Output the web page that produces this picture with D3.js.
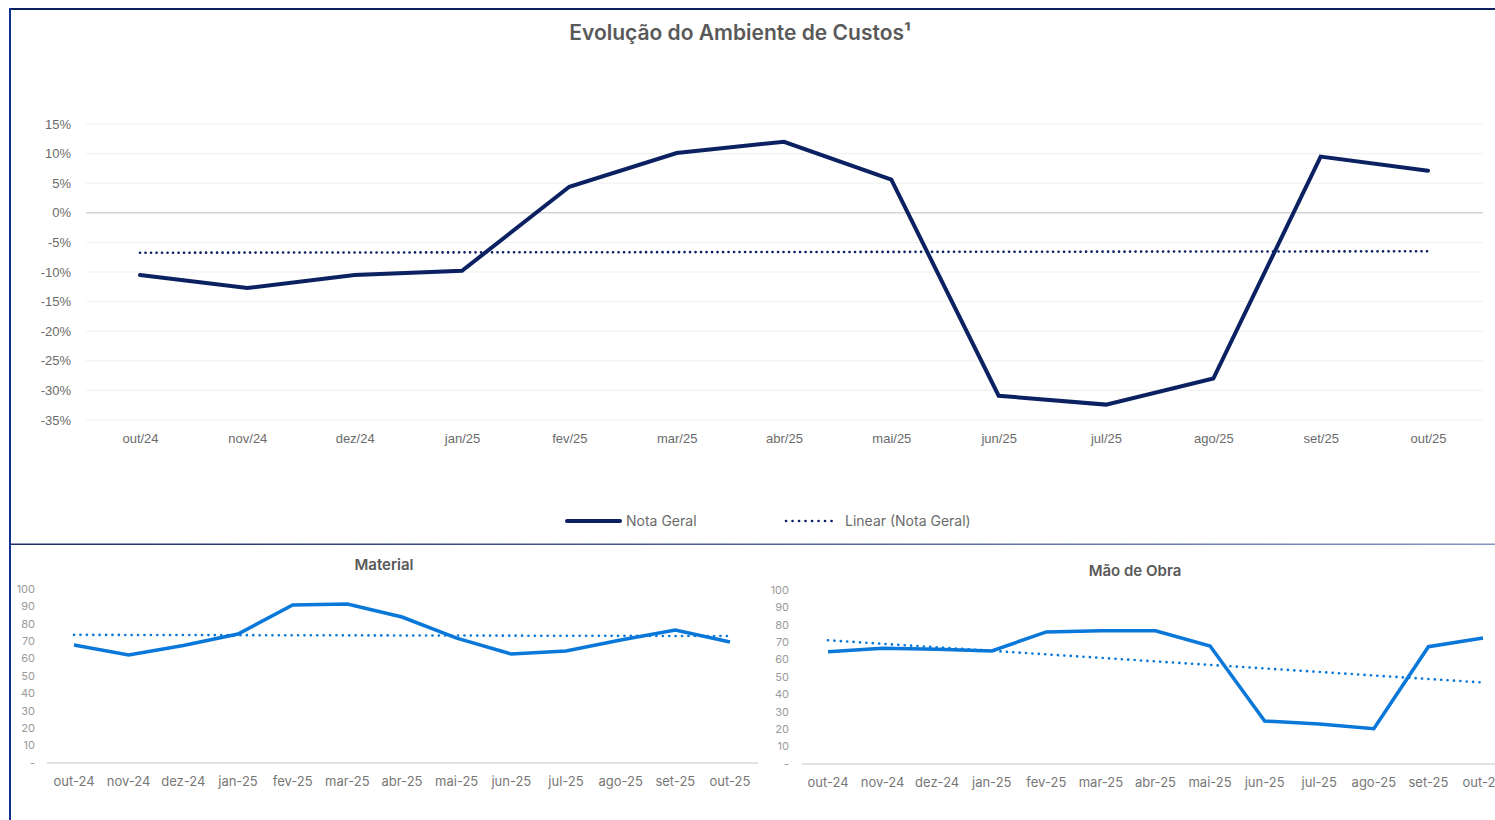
<!DOCTYPE html>
<head>
<meta charset="utf-8">
<script src="https://d3js.org/d3.v7.min.js"></script>
<style>
  body { margin: 0; background: #fff; }
  svg { display: block; font-family: Inter, "Noto Sans", sans-serif; }
  .tick-label { fill: #6b6b6b; font-size: 13px; }
  .small-y { fill: #9a9a9a; font-size: 11px; }
  .small-x { fill: #777; font-size: 13px; }
</style>
</head>
<body>
<div id="chart-container"></div>
<script>
// months for the main chart and the two small ones
var monthsTop = ["out/24","nov/24","dez/24","jan/25","fev/25","mar/25","abr/25","mai/25","jun/25","jul/25","ago/25","set/25","out/25"];
var monthsSmall = ["out-24","nov-24","dez-24","jan-25","fev-25","mar-25","abr-25","mai-25","jun-25","jul-25","ago-25","set-25","out-25"];

// series values
var notaGeral = [-0.105, -0.127, -0.105, -0.098, 0.044, 0.101, 0.120, 0.056, -0.309, -0.324, -0.280, 0.095, 0.071];
var material = [67.8, 62.1, 67.5, 74.1, 90.8, 91.4, 83.9, 71.8, 62.6, 64.4, 70.7, 76.4, 69.5];
var maoDeObra = [64.5, 66.5, 66.0, 65.0, 75.9, 76.6, 76.6, 67.8, 24.7, 23.0, 20.3, 67.4, 72.4];

var topTicks = [0.15, 0.10, 0.05, 0, -0.05, -0.10, -0.15, -0.20, -0.25, -0.30, -0.35];
var smallTicks = [0, 10, 20, 30, 40, 50, 60, 70, 80, 90, 100];

var W = 1495, H = 820;
var navy = "#0b2161";
var blue = "#0a78d8";

var svg = d3.select("#chart-container").append("svg")
    .attr("width", W)
    .attr("height", H);

// least squares fit, like excel's "Linear" trendline
function trend(vals) {
    var n = vals.length;
    var mx = (n - 1) / 2;
    var my = d3.mean(vals);
    var sxy = 0, sxx = 0;
    vals.forEach(function(v, i) { sxy += (i - mx) * (v - my); sxx += (i - mx) * (i - mx); });
    var b = sxy / sxx;
    return vals.map(function(v, i) { return my + b * (i - mx); });
}

// ---- frame ----
var grad = svg.append("defs").append("linearGradient").attr("id", "sep");
grad.append("stop").attr("offset", "0%").attr("stop-color", "#1c2d6b");
grad.append("stop").attr("offset", "100%").attr("stop-color", "#8495c4");

svg.append("rect").attr("x", 0).attr("y", 0).attr("width", W).attr("height", H).attr("fill", "#fff");
svg.append("line").attr("x1", 9).attr("x2", W).attr("y1", 9).attr("y2", 9)
    .attr("stroke", navy).attr("stroke-width", 2);
svg.append("line").attr("x1", 10).attr("x2", 10).attr("y1", 8).attr("y2", H)
    .attr("stroke", "#13308a").attr("stroke-width", 2);
svg.append("rect").attr("x", 11).attr("y", 543.5).attr("width", W - 11).attr("height", 1.5)
    .attr("fill", "url(#sep)");

// ---- main chart ----
svg.append("text")
    .attr("x", 740).attr("y", 40)
    .attr("text-anchor", "middle")
    .attr("fill", "#595959")
    .attr("font-size", "21px")
    .attr("font-weight", 600)
    .text("Evolução do Ambiente de Custos¹");

var x = d3.scalePoint().domain(monthsTop).range([140, 1428]);
var y = d3.scaleLinear().domain([-0.35, 0.15]).range([420, 124]);

var main = svg.append("g");

main.selectAll(".grid").data(topTicks).enter().append("line")
    .attr("x1", 86).attr("x2", 1483)
    .attr("y1", function(d) { return y(d); })
    .attr("y2", function(d) { return y(d); })
    .attr("stroke", function(d) { return d === 0 ? "#d4d4d4" : "#efefef"; })
    .attr("stroke-width", function(d) { return d === 0 ? 1.5 : 1; });

var yAxis = d3.axisLeft(y).tickValues(topTicks).tickSize(0).tickPadding(0)
    .tickFormat(function(d) { return Math.round(d * 100) + "%"; });
main.append("g").attr("transform", "translate(71,0)").call(yAxis)
    .call(function(g) { g.select(".domain").remove(); })
    .selectAll("text").attr("class", "tick-label").attr("font-family", null).attr("font-size", null);

var xAxis = d3.axisBottom(x).tickSize(0).tickPadding(0);
main.append("g").attr("transform", "translate(0,434)").call(xAxis)
    .call(function(g) { g.select(".domain").remove(); })
    .selectAll("text").attr("class", "tick-label").attr("font-family", null).attr("font-size", null);

var lineTop = d3.line().x(function(d, i) { return x(monthsTop[i]); }).y(function(d) { return y(d); });

main.append("path").datum(trend(notaGeral))
    .attr("d", lineTop)
    .attr("fill", "none").attr("stroke", navy).attr("stroke-width", 2.6)
    .attr("stroke-linecap", "round").attr("stroke-dasharray", "0.1 5.4");

main.append("path").datum(notaGeral)
    .attr("d", lineTop)
    .attr("fill", "none").attr("stroke", navy).attr("stroke-width", 4)
    .attr("stroke-linejoin", "miter").attr("stroke-linecap", "round");

// legend
var leg = svg.append("g").attr("font-size", "14px").attr("fill", "#6b6b6b");
leg.append("line").attr("x1", 567).attr("x2", 620).attr("y1", 521).attr("y2", 521)
    .attr("stroke", navy).attr("stroke-width", 4).attr("stroke-linecap", "round");
leg.append("text").attr("x", 626).attr("y", 526).text("Nota Geral");
leg.append("line").attr("x1", 786).attr("x2", 838).attr("y1", 521).attr("y2", 521)
    .attr("stroke", navy).attr("stroke-width", 2.6).attr("stroke-linecap", "round")
    .attr("stroke-dasharray", "0.1 6.4");
leg.append("text").attr("x", 845).attr("y", 526).text("Linear (Nota Geral)");

// ---- small charts ----
function drawSmall(cfg) {
    var g = svg.append("g");
    var sx = d3.scalePoint().domain(monthsSmall).range(cfg.xr);
    var sy = d3.scaleLinear().domain([0, 100]).range(cfg.yr);

    g.append("text")
        .attr("x", cfg.titleX).attr("y", cfg.titleY)
        .attr("text-anchor", "middle")
        .attr("fill", "#595959").attr("font-size", "15px").attr("font-weight", 600)
        .text(cfg.title);

    g.append("line").attr("x1", cfg.base[0]).attr("x2", cfg.base[1])
        .attr("y1", sy(0)).attr("y2", sy(0))
        .attr("stroke", "#d9d9d9").attr("stroke-width", 1.5);

    g.selectAll(".yl").data(smallTicks).enter().append("text")
        .attr("class", "small-y")
        .attr("x", cfg.labelX)
        .attr("y", function(d) { return sy(d); })
        .attr("dy", "0.35em")
        .attr("text-anchor", "end")
        .text(function(d) { return d === 0 ? "-" : d; });

    g.selectAll(".xl").data(monthsSmall).enter().append("text")
        .attr("class", "small-x")
        .attr("x", function(d) { return sx(d); })
        .attr("y", sy(0) + 23)
        .attr("text-anchor", "middle")
        .text(function(d) { return d; });

    var ln = d3.line().x(function(d, i) { return sx(monthsSmall[i]); }).y(function(d) { return sy(d); });

    g.append("path").datum(trend(cfg.values))
        .attr("d", ln)
        .attr("fill", "none").attr("stroke", blue).attr("stroke-width", 2.6)
        .attr("stroke-linecap", "round").attr("stroke-dasharray", "0.1 6.3");

    g.append("path").datum(cfg.values)
        .attr("d", ln)
        .attr("fill", "none").attr("stroke", blue).attr("stroke-width", 3.5)
        .attr("stroke-linejoin", "miter");
}

drawSmall({ title: "Material", values: material, titleX: 384, titleY: 570,
    xr: [74, 730], yr: [763, 589], base: [47, 758], labelX: 35 });
drawSmall({ title: "Mão de Obra", values: maoDeObra, titleX: 1135, titleY: 576,
    xr: [828, 1483], yr: [764, 590], base: [802, 1520], labelX: 789 });
</script>
</body>
